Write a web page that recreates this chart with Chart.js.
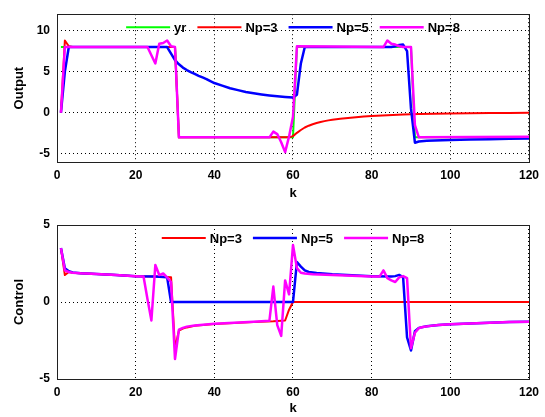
<!DOCTYPE html>
<html>
<head>
<meta charset="utf-8">
<script src="https://cdn.jsdelivr.net/npm/chart.js@4.4.1/dist/chart.umd.min.js"></script>
<style>
  body { margin: 0; background: #fff; }
  #wrap { position: relative; width: 545px; height: 417px; }
  canvas { position: absolute; left: 0; }
  #outChart { top: 0; }
  #ctrlChart { top: 202px; }
</style>
</head>
<body>
<div id="wrap">
  <canvas id="outChart" width="545" height="202"></canvas>
  <canvas id="ctrlChart" width="545" height="215"></canvas>
</div>
<script>
// axis ticks
const kTicks = [0, 20, 40, 60, 80, 100, 120];
const outputTicks = [-5, 0, 5, 10];
const controlTicks = [-5, 0, 5];

// setpoint yr, as [k, value]
const yr = [[1, 8], [30, 8], [31, -3], [60, -3], [61, 8], [90, 8], [91, -3], [120, -3]];

// plant output for each prediction horizon
const outNp3 = [[1, 0], [2, 8.8], [3, 8.1], [4, 8.0], [30, 8.0], [31, -3.0], [59, -3.0], [60, -2.85],
  [61, -2.45], [62, -2.1], [63, -1.8], [64, -1.58], [65, -1.4], [66, -1.25], [67, -1.13], [68, -1.02],
  [69, -0.93], [70, -0.85], [72, -0.73], [74, -0.63], [76, -0.55], [78, -0.47], [80, -0.4], [84, -0.3],
  [88, -0.22], [92, -0.16], [96, -0.12], [100, -0.09], [105, -0.06], [110, -0.04], [115, -0.02], [120, -0.01]];
const outNp5 = [[1, 0], [2, 5.0], [3, 8.0], [28, 8.0], [29, 7.2], [30, 6.4], [31, 5.9], [32, 5.5], [33, 5.2],
  [34, 4.95], [35, 4.72], [36, 4.5], [37, 4.3], [38, 4.1], [39, 3.85], [40, 3.62], [42, 3.3], [44, 2.98],
  [46, 2.75], [48, 2.52], [50, 2.36], [52, 2.22], [54, 2.1], [56, 2.0], [58, 1.92], [60, 1.85], [61, 2.2],
  [62, 6.0], [63, 8.0], [85, 8.0], [86, 8.1], [87, 8.25], [88, 8.3], [89, 7.5], [90, 0.5], [91, -3.65],
  [92, -3.5], [94, -3.42], [96, -3.37], [100, -3.32], [105, -3.27], [110, -3.22], [115, -3.17], [120, -3.13]];
const outNp8 = [[1, 0], [2, 8.0], [23, 8.0], [24, 7.0], [25, 6.0], [26, 8.4], [27, 8.5], [28, 8.8], [29, 8.1],
  [30, 8.0], [31, -3.0], [54, -3.0], [55, -2.3], [56, -2.6], [57, -3.6], [58, -4.8], [59, -2.9], [60, -0.5],
  [61, 8.1], [83, 8.0], [84, 8.8], [85, 8.4], [86, 8.3], [87, 8.1], [88, 8.0], [90, 8.0], [91, -1.5],
  [92, -3.0], [120, -2.92]];

// control signal for each prediction horizon
const ctrlNp3 = [[1, 3.5], [2, 1.75], [3, 1.95], [4, 1.9], [6, 1.86], [10, 1.82], [15, 1.75], [20, 1.68],
  [25, 1.65], [29, 1.6], [30, -3.0], [31, -1.85], [32, -1.72], [33, -1.65], [35, -1.55], [40, -1.43],
  [45, -1.36], [50, -1.3], [55, -1.25], [58, -1.2], [59, -0.5], [60, 0], [120, 0]];
const ctrlNp5 = [[1, 3.5], [2, 2.2], [3, 2.0], [4, 1.92], [6, 1.87], [10, 1.82], [15, 1.75], [20, 1.68],
  [25, 1.65], [28, 1.6], [29, 0], [60, 0], [61, 2.6], [62, 2.3], [63, 2.05], [64, 1.95], [66, 1.88],
  [70, 1.8], [75, 1.73], [80, 1.68], [85, 1.65], [86, 1.68], [87, 1.76], [88, 1.6], [89, -2.3], [90, -3.15],
  [91, -1.9], [92, -1.68], [94, -1.58], [97, -1.5], [100, -1.45], [105, -1.39], [110, -1.34], [115, -1.3],
  [120, -1.28]];
const ctrlNp8 = [[1, 3.5], [2, 2.05], [3, 1.95], [4, 1.9], [6, 1.86], [10, 1.82], [15, 1.75], [20, 1.68],
  [22, 1.65], [23, 0.2], [24, -1.2], [25, 2.4], [26, 1.75], [27, 1.85], [28, 1.6], [29, 1.3], [30, -3.7],
  [31, -1.8], [32, -1.68], [33, -1.6], [35, -1.52], [40, -1.42], [45, -1.35], [50, -1.29], [54, -1.22],
  [55, 1.0], [56, -1.5], [57, -2.2], [58, 1.4], [59, 0.5], [60, 3.7], [61, 2.2], [62, 1.9], [63, 1.85],
  [65, 1.8], [70, 1.75], [75, 1.7], [80, 1.66], [82, 1.65], [83, 2.05], [84, 1.55], [85, 1.4], [86, 1.3],
  [87, 1.6], [88, 1.68], [89, 1.55], [90, -3.0], [91, -2.0], [92, -1.7], [93, -1.62], [95, -1.55],
  [97, -1.5], [100, -1.45], [105, -1.39], [110, -1.34], [115, -1.3], [120, -1.28]];

const FONT = '"Liberation Sans", Arial, sans-serif';
Chart.defaults.font.family = FONT;
Chart.defaults.color = '#000';

// axes box plus a transparent legend row inside the top of the plot area
const boxAndLegend = {
    id: 'boxAndLegend',
    afterDraw(chart, args, opts) {
        const ctx = chart.ctx;
        const a = chart.chartArea;
        ctx.save();
        ctx.strokeStyle = '#202020';
        ctx.lineWidth = 1;
        ctx.setLineDash([]);
        ctx.strokeRect(Math.round(a.left) + 0.5, Math.round(a.top) + 0.5,
            Math.round(a.right - a.left), Math.round(a.bottom - a.top));

        const items = chart.data.datasets;
        ctx.font = 'bold 13px ' + FONT;
        const lineLen = 44, textGap = 4, itemGap = 11;
        const widths = items.map(d => ctx.measureText(d.label).width);
        let total = itemGap * (items.length - 1);
        for (let i = 0; i < items.length; i++) total += lineLen + textGap + widths[i];
        let x = (a.left + a.right) / 2 - total / 2;
        const y = a.top + opts.offset;
        ctx.textBaseline = 'middle';
        ctx.textAlign = 'left';
        for (let i = 0; i < items.length; i++) {
            const d = items[i];
            ctx.strokeStyle = d.borderColor;
            ctx.lineWidth = d.borderWidth;
            ctx.beginPath();
            ctx.moveTo(x, y);
            ctx.lineTo(x + lineLen, y);
            ctx.stroke();
            x += lineLen + textGap;
            ctx.fillStyle = '#000';
            ctx.fillText(d.label, x, y + 1);
            x += widths[i] + itemGap;
        }
        ctx.restore();
    }
};

function series(label, data, color, width, order) {
    return {
        label: label,
        data: data,
        borderColor: color,
        backgroundColor: color,
        borderWidth: width,
        borderJoinStyle: 'round',
        order: order,
        fill: false
    };
}

function makeChart(id, datasets, o) {
    return new Chart(document.getElementById(id), {
        type: 'line',
        data: { datasets: datasets },
        options: {
            responsive: false,
            animation: false,
            layout: { padding: { top: o.padTop, right: 15, left: 0, bottom: 0 } },
            elements: { point: { radius: 0 }, line: { tension: 0 } },
            plugins: {
                legend: { display: false },
                tooltip: { enabled: false },
                boxAndLegend: { offset: 13 }
            },
            scales: {
                x: {
                    type: 'linear',
                    min: 0,
                    max: 120,
                    afterBuildTicks: s => { s.ticks = kTicks.map(v => ({ value: v })); },
                    afterFit: s => { s.height = o.xHeight; },
                    grid: { color: '#000', lineWidth: 1, drawTicks: false },
                    border: { display: false, dash: [1, 3] },
                    ticks: { padding: 6, font: { size: 12, weight: 'bold' }, color: '#000' },
                    title: { display: true, text: 'k', font: { size: 13, weight: 'bold' }, color: '#000',
                        padding: { top: 0, bottom: 1 } }
                },
                y: {
                    min: o.yMin,
                    max: o.yMax,
                    afterBuildTicks: s => { s.ticks = o.yTicks.map(v => ({ value: v })); },
                    afterFit: s => { s.width = 57; },
                    grid: { color: '#000', lineWidth: 1, drawTicks: false },
                    border: { display: false, dash: [1, 3] },
                    ticks: { padding: 7, font: { size: 12, weight: 'bold' }, color: '#000' },
                    title: { display: true, text: o.yTitle, font: { size: 13, weight: 'bold' }, color: '#000',
                        padding: { top: 12, bottom: 0 } }
                }
            }
        },
        plugins: [boxAndLegend]
    });
}

makeChart('outChart', [
    series('yr', yr, '#00ff00', 2, 4),
    series('Np=3', outNp3, '#ff0000', 2, 3),
    series('Np=5', outNp5, '#0000ff', 2.5, 2),
    series('Np=8', outNp8, '#ff00ff', 2.5, 1)
], { padTop: 9, xHeight: 40, yMin: -6, yMax: 12, yTicks: outputTicks, yTitle: 'Output' });

makeChart('ctrlChart', [
    series('Np=3', ctrlNp3, '#ff0000', 2, 3),
    series('Np=5', ctrlNp5, '#0000ff', 2.5, 2),
    series('Np=8', ctrlNp8, '#ff00ff', 2.5, 1)
], { padTop: 23, xHeight: 38, yMin: -5, yMax: 5, yTicks: controlTicks, yTitle: 'Control' });
</script>
</body>
</html>
